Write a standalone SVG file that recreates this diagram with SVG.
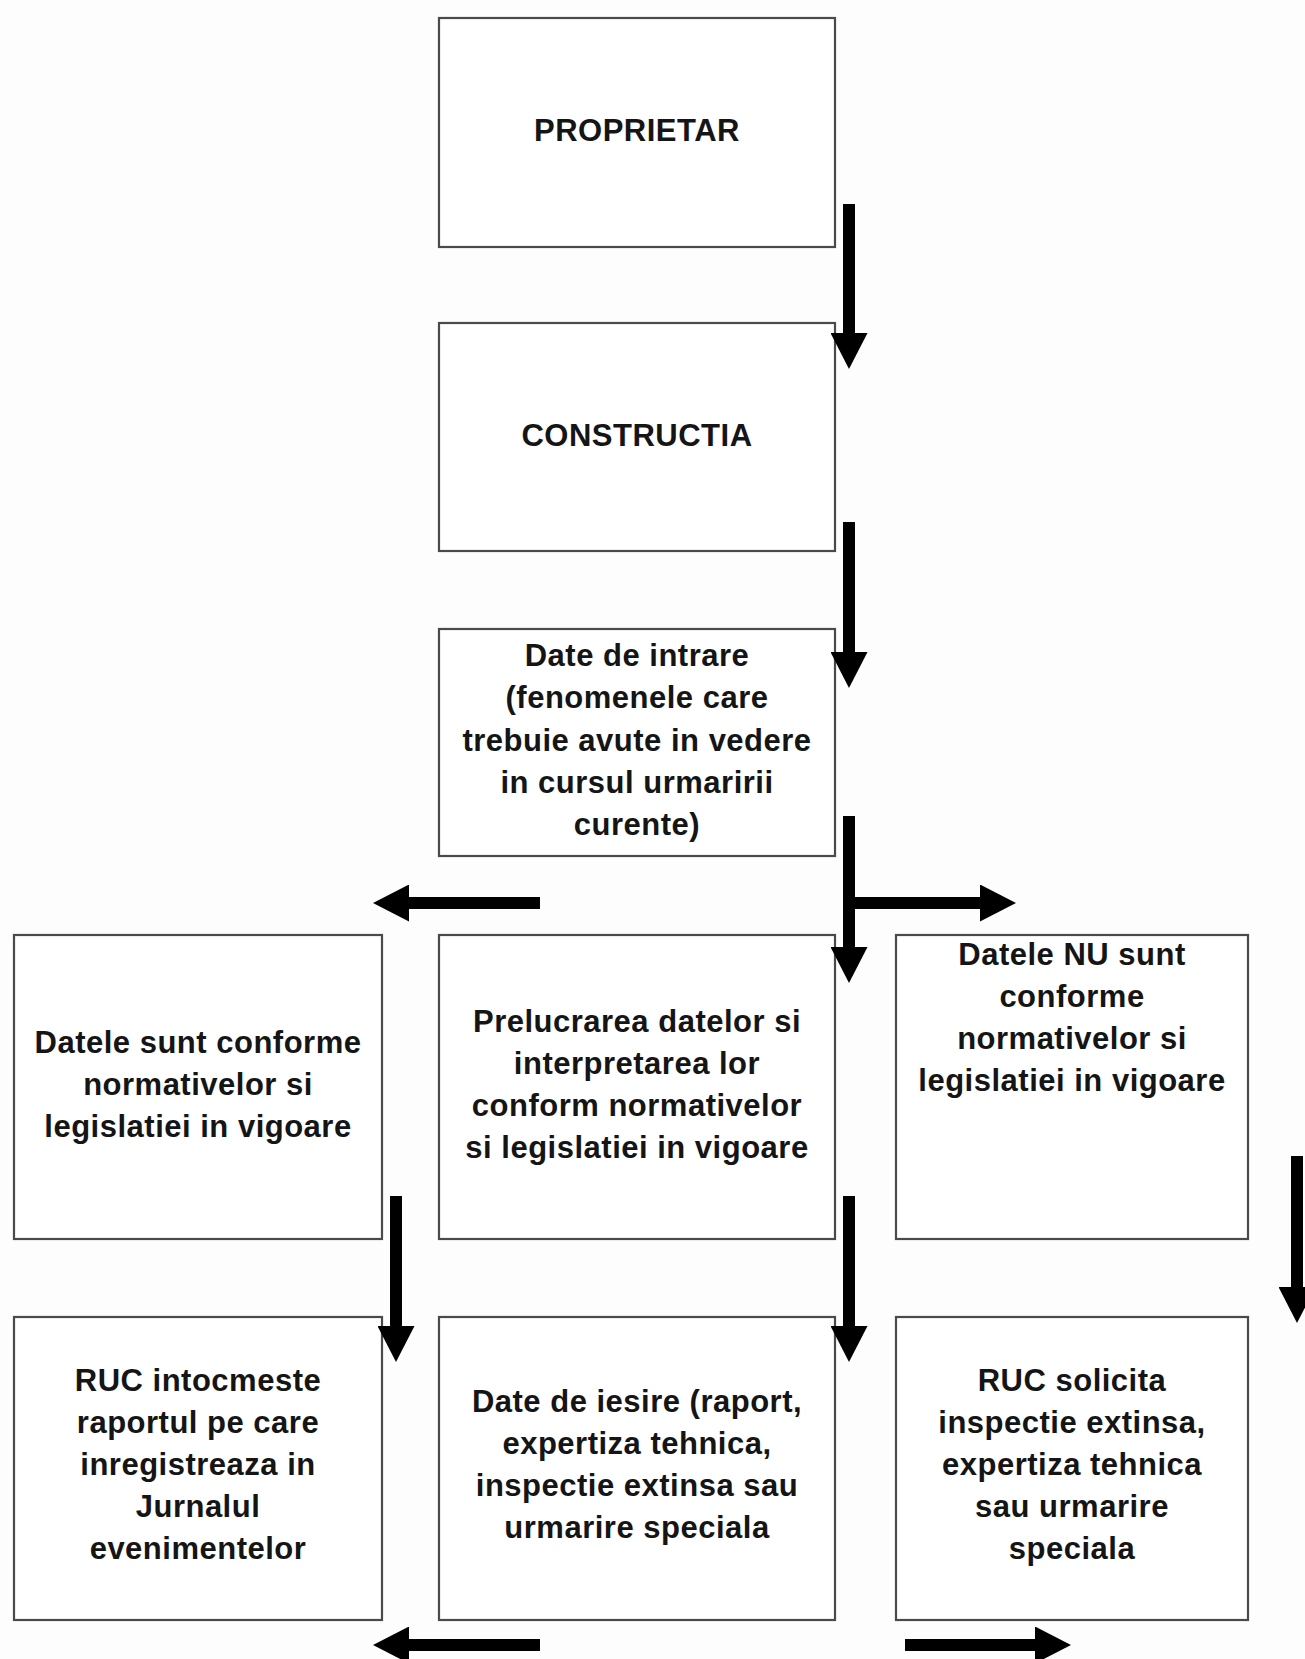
<svg xmlns="http://www.w3.org/2000/svg" width="1305" height="1659" viewBox="0 0 1305 1659">
<style>
.box{fill:#ffffff;stroke:#4a4a4a;stroke-width:2.2}
.t{font-family:"Liberation Sans",Arial,sans-serif;font-weight:bold;font-size:31px;letter-spacing:0.5px;fill:#151515;text-anchor:middle}
.arr{stroke:#000;stroke-width:12;fill:none}
</style>
<defs>
<marker id="ah" markerUnits="userSpaceOnUse" markerWidth="36" markerHeight="37" viewBox="0 0 36 37" refX="1" refY="18.5" orient="auto">
<path d="M0,0 L36,18.5 L0,37 Z" fill="#000"/>
</marker>
</defs>
<rect width="1305" height="1659" fill="#fdfdfd"/>
<g id="proprietar">
<rect class="box" x="439" y="18" width="396" height="229"/>
<text class="t" x="637" y="141">PROPRIETAR</text>
</g>
<g id="constructia">
<rect class="box" x="439" y="323" width="396" height="228"/>
<text class="t" x="637" y="446">CONSTRUCTIA</text>
</g>
<g id="date-intrare">
<rect class="box" x="439" y="629" width="396" height="227"/>
<text class="t" x="637" y="666">Date de intrare</text>
<text class="t" x="637" y="708">(fenomenele care</text>
<text class="t" x="637" y="751">trebuie avute in vedere</text>
<text class="t" x="637" y="793">in cursul urmaririi</text>
<text class="t" x="637" y="835">curente)</text>
</g>
<g id="conforme">
<rect class="box" x="14" y="935" width="368" height="304"/>
<text class="t" x="198" y="1053">Datele sunt conforme</text>
<text class="t" x="198" y="1095">normativelor si</text>
<text class="t" x="198" y="1137">legislatiei in vigoare</text>
</g>
<g id="prelucrare">
<rect class="box" x="439" y="935" width="396" height="304"/>
<text class="t" x="637" y="1032">Prelucrarea datelor si</text>
<text class="t" x="637" y="1074">interpretarea lor</text>
<text class="t" x="637" y="1116">conform normativelor</text>
<text class="t" x="637" y="1158">si legislatiei in vigoare</text>
</g>
<g id="neconforme">
<rect class="box" x="896" y="935" width="352" height="304"/>
<text class="t" x="1072" y="965">Datele NU sunt</text>
<text class="t" x="1072" y="1007">conforme</text>
<text class="t" x="1072" y="1049">normativelor si</text>
<text class="t" x="1072" y="1091">legislatiei in vigoare</text>
</g>
<g id="ruc-raport">
<rect class="box" x="14" y="1317" width="368" height="303"/>
<text class="t" x="198" y="1391">RUC intocmeste</text>
<text class="t" x="198" y="1433">raportul pe care</text>
<text class="t" x="198" y="1475">inregistreaza in</text>
<text class="t" x="198" y="1517">Jurnalul</text>
<text class="t" x="198" y="1559">evenimentelor</text>
</g>
<g id="date-iesire">
<rect class="box" x="439" y="1317" width="396" height="303"/>
<text class="t" x="637" y="1412">Date de iesire (raport,</text>
<text class="t" x="637" y="1454">expertiza tehnica,</text>
<text class="t" x="637" y="1496">inspectie extinsa sau</text>
<text class="t" x="637" y="1538">urmarire speciala</text>
</g>
<g id="ruc-solicita">
<rect class="box" x="896" y="1317" width="352" height="303"/>
<text class="t" x="1072" y="1391">RUC solicita</text>
<text class="t" x="1072" y="1433">inspectie extinsa,</text>
<text class="t" x="1072" y="1475">expertiza tehnica</text>
<text class="t" x="1072" y="1517">sau urmarire</text>
<text class="t" x="1072" y="1559">speciala</text>
</g>
<g id="connectors">
<line class="arr" x1="849" y1="204" x2="849" y2="334" marker-end="url(#ah)"/>
<line class="arr" x1="849" y1="522" x2="849" y2="653" marker-end="url(#ah)"/>
<line class="arr" x1="849" y1="816" x2="849" y2="948" marker-end="url(#ah)"/>
<line class="arr" x1="849" y1="903" x2="981" y2="903" marker-end="url(#ah)"/>
<line class="arr" x1="540" y1="903" x2="408" y2="903" marker-end="url(#ah)"/>
<line class="arr" x1="396" y1="1196" x2="396" y2="1327" marker-end="url(#ah)"/>
<line class="arr" x1="849" y1="1196" x2="849" y2="1327" marker-end="url(#ah)"/>
<line class="arr" x1="1297" y1="1156" x2="1297" y2="1288" marker-end="url(#ah)"/>
<line class="arr" x1="540" y1="1645" x2="408" y2="1645" marker-end="url(#ah)"/>
<line class="arr" x1="905" y1="1645" x2="1036" y2="1645" marker-end="url(#ah)"/>
</g>
</svg>
